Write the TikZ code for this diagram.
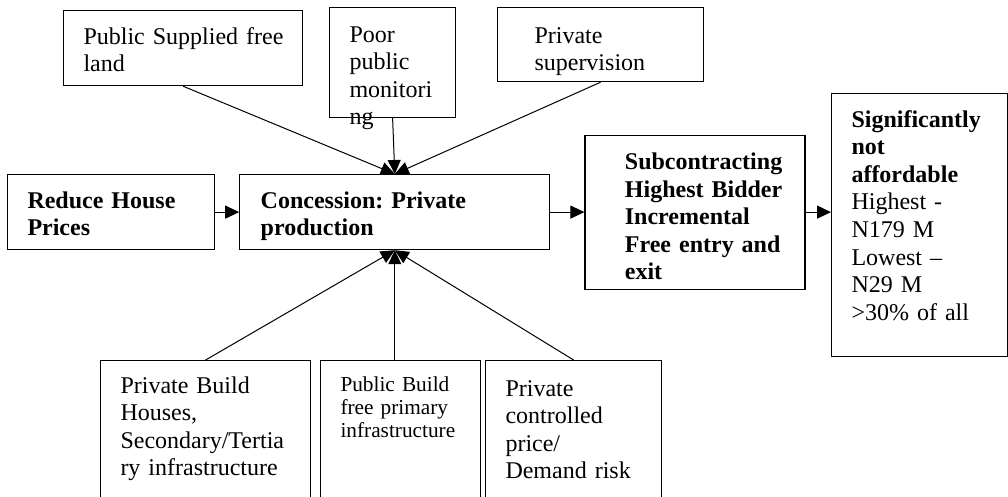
\documentclass[tikz,border=0pt]{standalone}
\usepackage{fontspec}
\setmainfont{Liberation Serif}
\usetikzlibrary{arrows.meta, positioning, calc}
\frenchspacing
\tikzset{
    flowdiagram/.style={x=1pt, y=1pt, >={Triangle[length=14pt, width=13pt]}, line width=1pt},
    box/.style={draw, line width=1.2pt, inner sep=0pt, anchor=north west},
    txt/.style={inner sep=0pt, anchor=base west, text width=#1, align=left, font=\fontsize{24}{27.6}\selectfont},
    txt/.default=230pt,
    bold/.style={font=\fontsize{24}{27.6}\selectfont\bfseries},
    % smaller type, only in one of the bottom boxes
    small/.style={font=\fontsize{21.3}{23.4}\selectfont},
}
\begin{document}
\begin{tikzpicture}[flowdiagram]
    \useasboundingbox (0,0) rectangle (1008,-496);

    % middle row
    \node[box, minimum width=207pt, minimum height=75pt] (reduce) at (7,-174) {};
    \node[box, minimum width=310pt, minimum height=75pt, right=24pt of reduce] (conc) {};
    \node[box, minimum width=220pt, minimum height=154pt, right=34pt of conc] (subc) {};
    \node[box, minimum width=176pt, minimum height=263pt] (result) at (831,-93) {};

    % inputs above
    \node[box, minimum width=239pt, minimum height=75pt] (land) at (63,-10) {};
    \node[box, minimum width=126pt, minimum height=110pt] (monitor) at (329,-7) {};
    \node[box, minimum width=206pt, minimum height=74pt] (superv) at (497,-7) {};

    % inputs below
    \node[box, minimum width=210pt, minimum height=150pt] (houses) at (100,-360) {};
    \node[box, minimum width=160pt, minimum height=150pt] (infra) at (320,-360) {};
    \node[box, minimum width=176pt, minimum height=150pt] (risk) at (485,-360) {};

    % texts
    \node[txt, bold] (reducetxt) at ($(reduce.north west)+(20,-34)$) {Reduce House\\Prices};
    \node[txt, bold] (conctxt) at ($(conc.north west)+(21,-34)$) {Concession: Private\\production};
    \node[txt, bold] (subctxt) at ($(subc.north west)+(40,-35)$)
        {Subcontracting\\Highest Bidder\\Incremental\\\makebox[158pt][s]{Free entry and}\\exit};
    \node[txt] (resulttxt) at ($(result.north west)+(20,-34)$)
        {\textbf{Significantly}\\\textbf{not}\\\textbf{affordable}\\Highest -\\N179 M\\Lowest --\\N29 M\\>30\% of all};
    \node[txt] (landtxt) at ($(land.north west)+(20,-34)$) {Public Supplied free\\land};
    \node[txt] (monitortxt) at ($(monitor.north west)+(20,-35)$) {Poor\\public\\monitori\\ng};
    \node[txt] (supervtxt) at ($(superv.north west)+(37,-36)$) {Private\\supervision};
    \node[txt] (housestxt) at ($(houses.north west)+(20,-33)$)
        {Private Build\\Houses,\\Secondary/Tertia\\ry infrastructure};
    \node[txt, small] (infratxt) at ($(infra.north west)+(20,-31)$) {Public Build\\free primary\\infrastructure};
    \node[txt] (risktxt) at ($(risk.north west)+(20,-36)$) {Private\\controlled\\price/\\Demand risk};

    % connectors
    \draw[->] (reduce) -- (conc);
    \draw[->] (conc.east) -- (conc.east -| subc.west);
    \draw[->] (subc.east) -- (subc.east -| result.west);
    \draw[->] (land.south) -- (conc.north);
    \draw[->] (monitor.south) -- (conc.north);
    \draw[->] (superv.south) -- (conc.north);
    \draw[->] (houses.north) -- (conc.south);
    \draw[->] (conc.south |- infra.north) -- (conc.south);
    \draw[->] (risk.north) -- (conc.south);
\end{tikzpicture}
\end{document}
